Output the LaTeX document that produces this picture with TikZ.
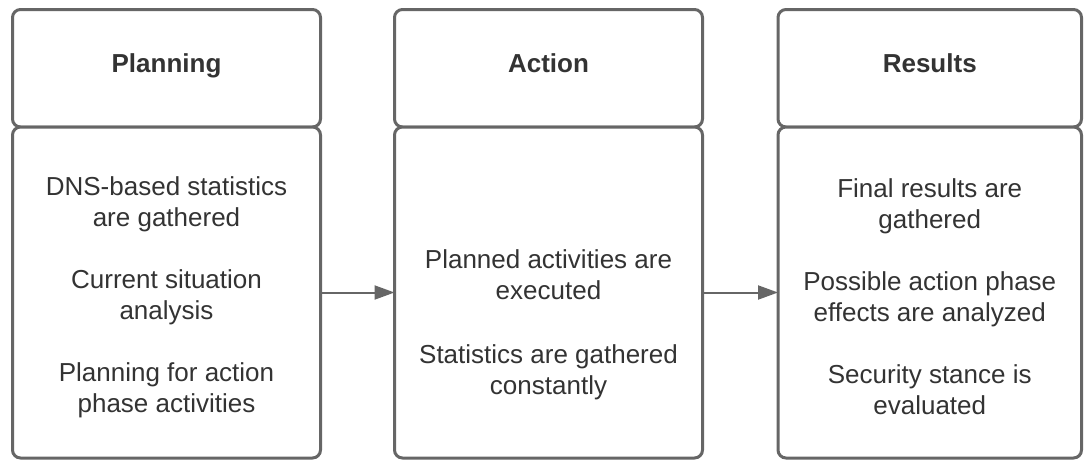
\documentclass[tikz,border=0pt]{standalone}
\usepackage{fontspec}
\setmainfont{Liberation Sans}
\usetikzlibrary{positioning}
\usetikzlibrary{arrows.meta}
\definecolor{boxline}{RGB}{102,102,102}
\definecolor{boxtext}{RGB}{51,51,51}
\begin{document}
\begin{tikzpicture}

        \tikzstyle{phase} = [rectangle, rounded corners=8pt, draw=boxline, line width=3pt,
            fill=white, outer sep=0pt, minimum width=308pt, text=boxtext, align=center]
        \tikzstyle{header} = [phase, minimum height=117.5pt, text height=19pt, text depth=11.5pt,
            font=\fontsize{26}{31}\selectfont\bfseries]
        \tikzstyle{body} = [phase, minimum height=331pt]
        \tikzstyle{bodytext} = [text=boxtext, align=center, font=\fontsize{26}{31}\selectfont]
        \tikzstyle{flow} = [-{Triangle[length=20pt,width=14pt]}, draw=boxline, line width=2pt]

        \useasboundingbox (0pt,0pt) rectangle (1084pt,-461pt);

        \node[header]                                  (planHead)  at (166.5pt,-68.25pt) {Planning};
        \node[body, below=0pt of planHead]             (planBody)  {};
        \node[header, right=74pt of planHead]          (actHead)   {Action};
        \node[body, below=0pt of actHead]              (actBody)   {};
        \node[header, right=75.5pt of actHead, minimum width=303.5pt] (resHead) {Results};
        \node[body, below=0pt of resHead, minimum width=303.5pt]      (resBody) {};

        \node[bodytext, yshift=-5pt]  (planText) at (planBody.center)
            {DNS-based statistics\\ are gathered\\[31pt] Current situation\\ analysis\\[31pt]
             Planning for action\\ phase activities};
        \node[bodytext, yshift=-32pt] (actText)  at (actBody.center)
            {Planned activities are\\ executed\\[33pt] Statistics are gathered\\ constantly};
        \node[bodytext, yshift=-4pt]  (resText)  at (resBody.center)
            {Final results are\\ gathered\\[31pt] Possible action phase\\ effects are analyzed\\[31pt]
             Security stance is\\ evaluated};

        \draw[flow] (planBody) -- (actBody);
        \draw[flow] (actBody)  -- (resBody);

      \end{tikzpicture}
\end{document}
